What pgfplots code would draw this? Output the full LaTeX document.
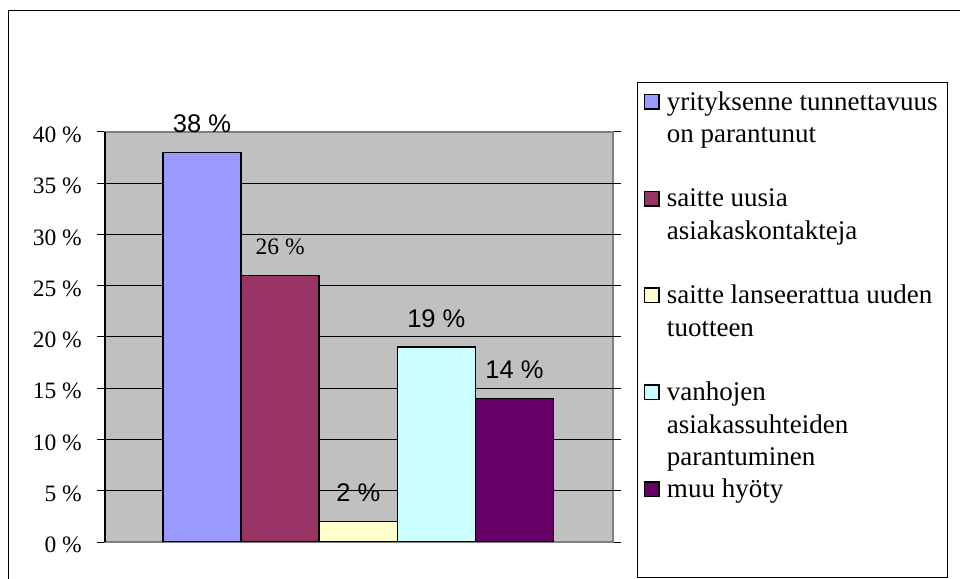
\documentclass[border=0pt]{standalone}
\usepackage{pgfplots}
\pgfplotsset{compat=1.18}
\usepackage{fontspec}
\setmainfont{Liberation Serif}
\newfontfamily\arialfont{Liberation Sans}
\newcommand{\ticklab}{\fontsize{23.5bp}{28bp}\selectfont}
\definecolor{cA}{HTML}{9999FF}
\definecolor{cB}{HTML}{993366}
\definecolor{cC}{HTML}{FFFFCC}
\definecolor{cD}{HTML}{CCFFFF}
\definecolor{cE}{HTML}{660066}
\definecolor{bggray}{HTML}{C0C0C0}
\definecolor{frgray}{HTML}{808080}
\pgfplotsset{
  sqlegend/.style={legend image code/.code={\draw[##1, line width=1.5bp] (0.75bp,-4.75bp) rectangle (15.25bp,9.75bp);}},
  lblsans/.style={every node near coord/.append style={font=\arialfont\fontsize{25.5bp}{30bp}\selectfont, text=black, anchor=center, yshift=29bp}},
  lblserif/.style={every node near coord/.append style={font=\fontsize{23.5bp}{28bp}\selectfont, text=black, anchor=center, yshift=29bp}},
  lbl/.style={nodes near coords={\pgfmathprintnumber[assume math mode=true]{\pgfplotspointmeta}\ \%}},
}
\begin{document}
\begin{tikzpicture}
\path[use as bounding box] (-105bp,-37bp) rectangle (855bp,542bp);
\begin{axis}[
  at={(0,0)}, anchor=south west,
  scale only axis, width=508bp, height=410bp,
  xmin=-0.242, xmax=6.261, ymin=0, ymax=40,
  axis background/.style={fill=bggray},
  axis line style={draw=frgray, line width=1.5bp},
  xtick=\empty,
  ytick={0,5,...,40},
  yticklabel={\ticklab\pgfmathprintnumber[assume math mode=true]{\tick}\ \%},
  yticklabel style={font=\ticklab, anchor=east, inner sep=0pt, xshift=-15bp, yshift=-3bp},
  tick align=outside, major tick length=8bp,
  ytick style={black, line width=1bp},
  extra y ticks={5,10,15,20,25,30,35},
  extra y tick labels={},
  extra y tick style={grid=major, ytick style={black, line width=1bp}},
  grid style={black, line width=1bp},
  legend style={at={(1.0610,1.10732)}, anchor=north west, draw=none, fill=none,
    inner sep=0pt, outer sep=0pt, row sep=0pt,
    font=\fontsize{27bp}{32.3bp}\selectfont,
    nodes={inner sep=0pt, text height=22bp, text depth=10.3bp},
    /tikz/every odd column/.append style={column sep=7bp}},
  legend cell align=left,
]
\addplot[ybar, bar width=1, fill=cA, draw=black, line width=1.5bp, sqlegend, lbl, lblsans] coordinates {(1,38)};
\addlegendentry{yrityksenne tunnettavuus}
\addlegendimage{empty legend}\addlegendentry{on parantunut}
\addlegendimage{empty legend}\addlegendentry{}
\addplot[ybar, bar width=1, fill=cB, draw=black, line width=1.5bp, sqlegend, lbl, lblserif] coordinates {(2,26)};
\addlegendentry{saitte uusia}
\addlegendimage{empty legend}\addlegendentry{asiakaskontakteja}
\addlegendimage{empty legend}\addlegendentry{}
\addplot[ybar, bar width=1, fill=cC, draw=black, line width=1.5bp, sqlegend, lbl, lblsans] coordinates {(3,2)};
\addlegendentry{saitte lanseerattua uuden}
\addlegendimage{empty legend}\addlegendentry{tuotteen}
\addlegendimage{empty legend}\addlegendentry{}
\addplot[ybar, bar width=1, fill=cD, draw=black, line width=1.5bp, sqlegend, lbl, lblsans] coordinates {(4,19)};
\addlegendentry{vanhojen}
\addlegendimage{empty legend}\addlegendentry{asiakassuhteiden}
\addlegendimage{empty legend}\addlegendentry{parantuminen}
\addplot[ybar, bar width=1, fill=cE, draw=black, line width=1.5bp, sqlegend, lbl, lblsans] coordinates {(5,14)};
\addlegendentry{muu hyöty}
\end{axis}
\draw[black, line width=1.5bp] (0bp,0bp) -- (0bp,410bp);
\draw[black, line width=1bp] (-96bp,-37bp) -- (-96bp,531bp) -- (855bp,531bp);
\draw[black, line width=1bp] (532bp,-35bp) rectangle (842bp,459bp);
\end{tikzpicture}
\end{document}
